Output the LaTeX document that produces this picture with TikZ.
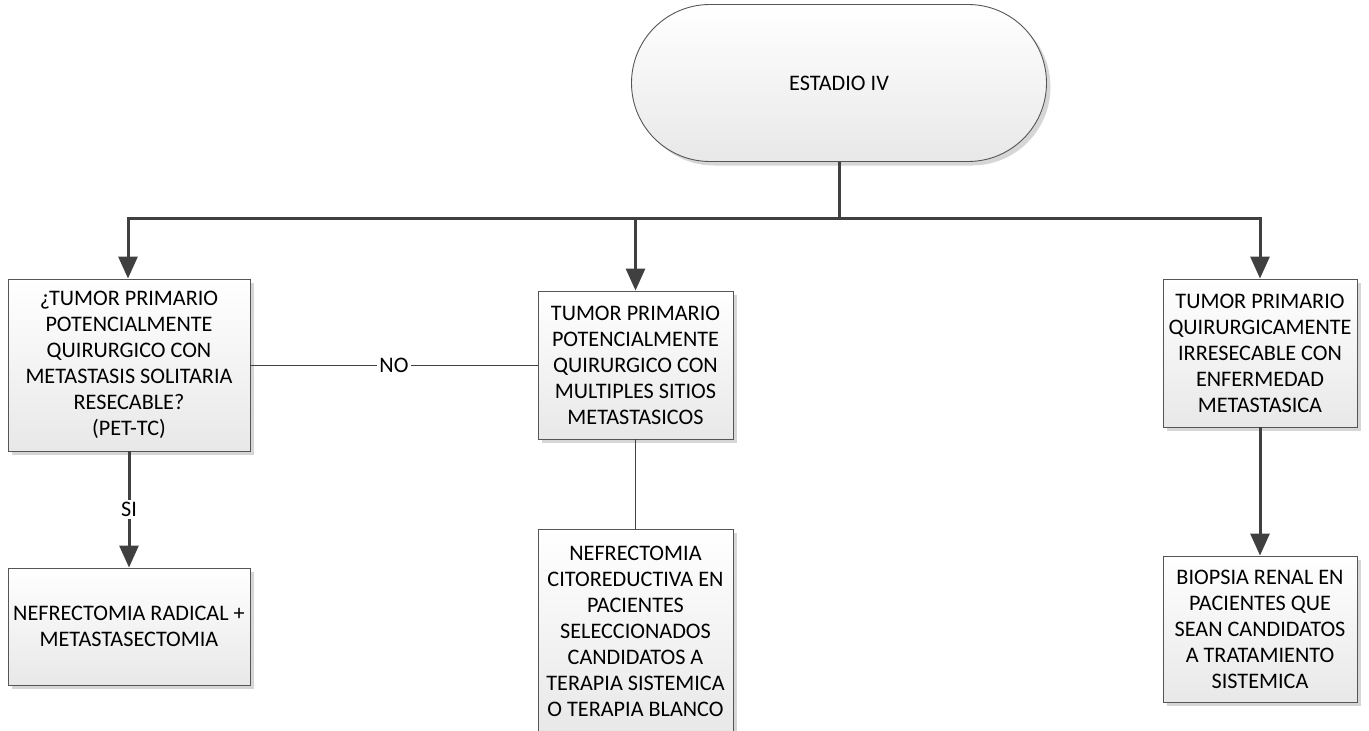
\documentclass[tikz,border=0pt]{standalone}
\usepackage{fontspec}
\setmainfont{Carlito}
\usetikzlibrary{shapes.misc,arrows.meta,shadows}
\definecolor{linec}{HTML}{404040}
\definecolor{bordc}{HTML}{555555}
\tikzset{
 box/.style={draw=bordc, line width=0.9pt, top color=white, bottom color=black!9,
   drop shadow={shadow xshift=4pt,shadow yshift=-4pt,fill=black!16,opacity=1},
   align=center, inner sep=0pt, font=\fontsize{22.2}{26}\selectfont},
 thickline/.style={draw=linec, line width=3pt},
 thinline/.style={draw=linec, line width=1pt},
 arr/.style={thickline,-{Triangle[length=22pt,width=19pt]}},
 lbl/.style={fill=white, inner sep=2pt, font=\fontsize{22.2}{26}\selectfont},
}
\begin{document}
\begin{tikzpicture}[x=1pt,y=-1pt]
\useasboundingbox (0,0) rectangle (1369,731);
\clip (0,0) rectangle (1369,731);
\node[box, rounded rectangle, minimum width=415pt, minimum height=157pt] (term) at (839,83) {ESTADIO IV};
\node[box, minimum width=242pt, minimum height=172pt] (q1) at (129,365)
 {¿TUMOR PRIMARIO\\POTENCIALMENTE\\QUIRURGICO CON\\METASTASIS SOLITARIA\\RESECABLE?\\(PET-TC)};
\node[box, minimum width=195pt, minimum height=148pt] (m1) at (635.5,365)
 {TUMOR PRIMARIO\\POTENCIALMENTE\\QUIRURGICO CON\\MULTIPLES SITIOS\\METASTASICOS};
\node[box, minimum width=194pt, minimum height=148pt] (r1) at (1260,353)
 {TUMOR PRIMARIO\\QUIRURGICAMENTE\\IRRESECABLE CON\\ENFERMEDAD\\METASTASICA};
\node[box, minimum width=242pt, minimum height=117pt] (q2) at (129,626.5)
 {NEFRECTOMIA RADICAL +\\METASTASECTOMIA};
\node[box, minimum width=195pt, minimum height=204pt] (m2) at (635.5,631)
 {NEFRECTOMIA\\CITOREDUCTIVA EN\\PACIENTES\\SELECCIONADOS\\CANDIDATOS A\\TERAPIA SISTEMICA\\O TERAPIA BLANCO};
\node[box, minimum width=194pt, minimum height=146pt] (r2) at (1260,629)
 {BIOPSIA RENAL EN\\PACIENTES QUE\\SEAN CANDIDATOS\\A TRATAMIENTO\\SISTEMICA};
\coordinate (hj) at (839,218);
\coordinate (hl) at (128,218);
\coordinate (hm) at (635.5,218);
\coordinate (hr) at (1260,218);
\draw[thickline] (term.south) -- (hj);
\draw[thickline, line cap=rect] (hl) -- (hr);
\draw[arr] (hl) -- (hl |- q1.north);
\draw[arr] (hm) -- (m1.north);
\draw[arr] (hr) -- (r1.north);
\draw[thinline] (q1.east) -- node[lbl] {NO} (m1.west);
\draw[arr] (q1.south) -- node[lbl] {SI} (q2.north);
\draw[thinline] (m1.south) -- (m2.north);
\draw[arr] (r1.south) -- (r2.north);
\end{tikzpicture}
\end{document}
